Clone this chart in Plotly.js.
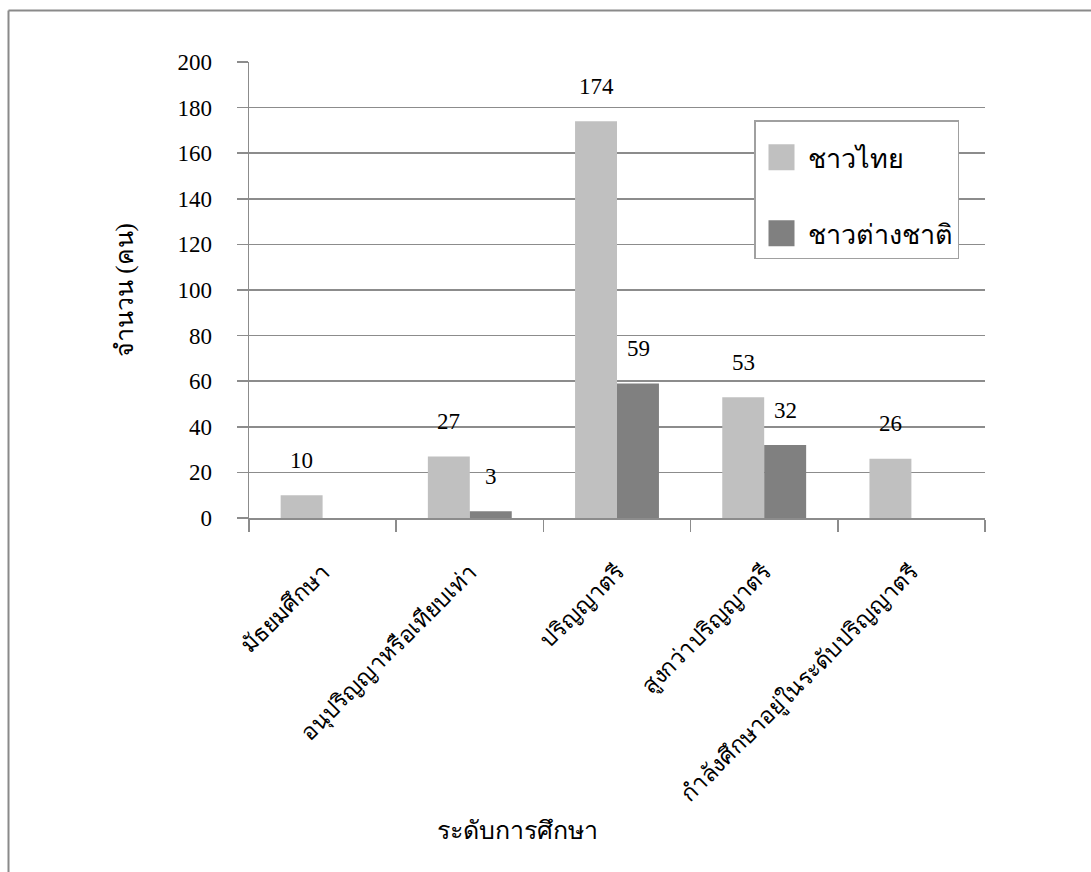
<!DOCTYPE html>
<html>
<head>
<meta charset="utf-8">
<script src="https://cdn.plot.ly/plotly-3.0.1.min.js"></script>
<style>
html,body{margin:0;padding:0;background:#fff;}
#chart{width:1091px;height:872px;}
</style>
</head>
<body>
<div id="chart"></div>
<script>
const categories = ["มัธยมศึกษา", "อนุปริญญาหรือเทียบเท่า", "ปริญญาตรี", "สูงกว่าปริญญาตรี", "กำลังศึกษาอยู่ในระดับปริญญาตรี"];
const thaiValues = [10, 27, 174, 53, 26];
const foreignValues = [0, 3, 59, 32, 0];
const seriesNames = ["ชาวไทย", "ชาวต่างชาติ"];
const yTitle = "จำนวน (คน)";
const xTitle = "ระดับการศึกษา";

const FONT = "Liberation Serif";
const GRID = "#8c8c8c";

const traces = [
  {type: "bar", name: seriesNames[0], x: categories, y: thaiValues,
   marker: {color: "#c0c0c0", line: {width: 0}}, legendgroup: "a", hoverinfo: "y"},
  {type: "bar", name: seriesNames[1], x: categories, y: foreignValues,
   marker: {color: "#808080", line: {width: 0}}, legendgroup: "b", hoverinfo: "y"}
];

const annotations = [];
[[thaiValues, -21], [foreignValues, 21]].forEach(([vals, dx]) => {
  vals.forEach((v, i) => {
    if (v > 0) annotations.push({
      x: categories[i], y: v, xref: "x", yref: "y", xshift: dx, yshift: 35,
      text: String(v), showarrow: false, yanchor: "middle", xanchor: "center",
      font: {family: FONT, size: 23, color: "#000"}
    });
  });
});
annotations.push({
  x: (517 - 249) / 736, y: (518 - 830) / 456, xref: "paper", yref: "paper",
  text: xTitle, showarrow: false, xanchor: "center", yanchor: "middle",
  font: {family: FONT, size: 25, color: "#000"}
});

const layout = {
  width: 1091, height: 872,
  margin: {l: 249, r: 106, t: 62, b: 354},
  paper_bgcolor: "#fff", plot_bgcolor: "#fff",
  font: {family: FONT, size: 23, color: "#000"},
  barmode: "group", bargap: 0.43, bargroupgap: 0,
  showlegend: true,
  legend: {
    x: (754 - 249) / 736, y: (518 - 120) / 456, xanchor: "left", yanchor: "top",
    bgcolor: "#fff", bordercolor: "#a0a0a0", borderwidth: 1.5,
    font: {family: FONT, size: 27, color: "#000"},
    title: {text: " ", font: {size: 9}},
    traceorder: "grouped", tracegroupgap: 38, itemwidth: 42
  },
  xaxis: {
    type: "category", showline: true, linecolor: GRID, linewidth: 1.5,
    ticks: "outside", ticklen: 12, tickcolor: GRID, tickwidth: 1.5, tickson: "boundaries",
    tickangle: -45, showgrid: false, zeroline: false, ticklabelstandoff: 30,
    tickfont: {family: FONT, size: 23, color: "#000"}
  },
  yaxis: {
    range: [0, 200], dtick: 20, showline: true, linecolor: GRID, linewidth: 1.5,
    ticks: "outside", ticklen: 11, tickcolor: GRID, tickwidth: 1.5,
    showgrid: true, gridcolor: GRID, gridwidth: 1.5, zeroline: false,
    ticklabelstandoff: 20,
    tickfont: {family: FONT, size: 23, color: "#000"},
    title: {text: yTitle, standoff: 36, font: {family: FONT, size: 25, color: "#000"}}
  },
  annotations: annotations,
  shapes: [
    {type: "line", xref: "paper", yref: "paper", x0: (8.5 - 249) / 736, x1: (1091 - 249) / 736,
     y0: (518 - 10.5) / 456, y1: (518 - 10.5) / 456, line: {color: "#8a8a8a", width: 2}, layer: "above"},
    {type: "line", xref: "paper", yref: "paper", x0: (8.5 - 249) / 736, x1: (8.5 - 249) / 736,
     y0: (518 - 10.5) / 456, y1: (518 - 872) / 456, line: {color: "#8a8a8a", width: 2}, layer: "above"}
  ]
};

Plotly.newPlot("chart", traces, layout, {displayModeBar: false, staticPlot: true}).then(gd => {
  // enlarge legend swatches to match the reference's square keys
  gd.querySelectorAll(".legend .legendpoints path").forEach(p => {
    p.setAttribute("d", "M13,13H-13V-13H13Z");
  });
});
</script>
</body>
</html>
